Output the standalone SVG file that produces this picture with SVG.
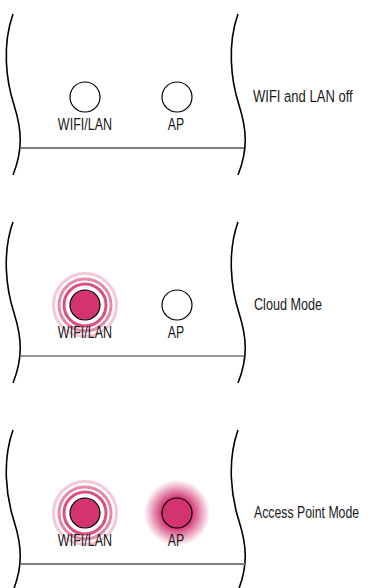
<svg xmlns="http://www.w3.org/2000/svg" width="368" height="588" viewBox="0 0 368 588">
<style>
.edge{fill:none;stroke:#000;stroke-width:1.6}
.led-off{fill:#fff;stroke:#000;stroke-width:1.2}
.led-on{fill:#d33470;stroke:#000;stroke-width:1.2}
.r1{fill:none;stroke:#d9517f;stroke-width:3}
.r2{fill:none;stroke:#e68aac;stroke-width:3}
.r3{fill:none;stroke:#f3c9d8;stroke-width:3}
text{font-family:"Liberation Sans",Arial,sans-serif;font-size:16.5px;fill:#1a1a1a}
.lbl{text-anchor:middle}
</style>
<defs>
<path id="wave" d="M13,14 C2,45 6,80 14,105 C22,130 23,150 13,175"/>
<radialGradient id="glow">
<stop offset="0" stop-color="#d33470"/>
<stop offset="0.45" stop-color="#d33470"/>
<stop offset="0.7" stop-color="#d33470" stop-opacity="0.55"/>
<stop offset="1" stop-color="#d33470" stop-opacity="0"/>
</radialGradient>
<g id="rings">
<circle r="21" class="r1"/>
<circle r="26" class="r2"/>
<circle r="31.5" class="r3"/>
</g>
</defs>

<g id="panel-off">
<use href="#wave" class="edge"/>
<use href="#wave" class="edge" x="225"/>
<line x1="21" y1="148" x2="245" y2="148" stroke="#000" stroke-width="1"/>
<g id="off-wifi"><circle cx="85" cy="97" r="15" class="led-off"/><text class="lbl" transform="translate(85,130) scale(0.76,1)">WIFI/LAN</text></g>
<g id="off-ap"><circle cx="177" cy="97" r="15" class="led-off"/><text class="lbl" transform="translate(176,130) scale(0.74,1)">AP</text></g>
<text transform="translate(253,102) scale(0.79,1)">WIFI and LAN off</text>
</g>

<g id="panel-cloud" transform="translate(0,208)">
<use href="#wave" class="edge"/>
<use href="#wave" class="edge" x="225"/>
<line x1="21" y1="148" x2="245" y2="148" stroke="#333" stroke-width="1.2"/>
<g id="cloud-wifi"><use href="#rings" x="85" y="97"/><circle cx="85" cy="97" r="15" class="led-on"/><text class="lbl" transform="translate(85,130) scale(0.76,1)">WIFI/LAN</text></g>
<g id="cloud-ap"><circle cx="177" cy="97" r="15" class="led-off"/><text class="lbl" transform="translate(176,130) scale(0.74,1)">AP</text></g>
<text transform="translate(254,102) scale(0.765,1)">Cloud Mode</text>
</g>

<g id="panel-ap" transform="translate(0,416)">
<use href="#wave" class="edge"/>
<use href="#wave" class="edge" x="225"/>
<line x1="21" y1="148" x2="245" y2="148" stroke="#808080" stroke-width="2"/>
<g id="ap-wifi"><use href="#rings" x="85" y="97"/><circle cx="85" cy="97" r="15" class="led-on"/><text class="lbl" transform="translate(85,130) scale(0.76,1)">WIFI/LAN</text></g>
<g id="ap-ap"><circle cx="177" cy="97" r="33" fill="url(#glow)"/><circle cx="177" cy="97" r="15" class="led-on"/><text class="lbl" transform="translate(176,130) scale(0.74,1)">AP</text></g>
<text transform="translate(254,102) scale(0.745,1)">Access Point Mode</text>
</g>
</svg>
